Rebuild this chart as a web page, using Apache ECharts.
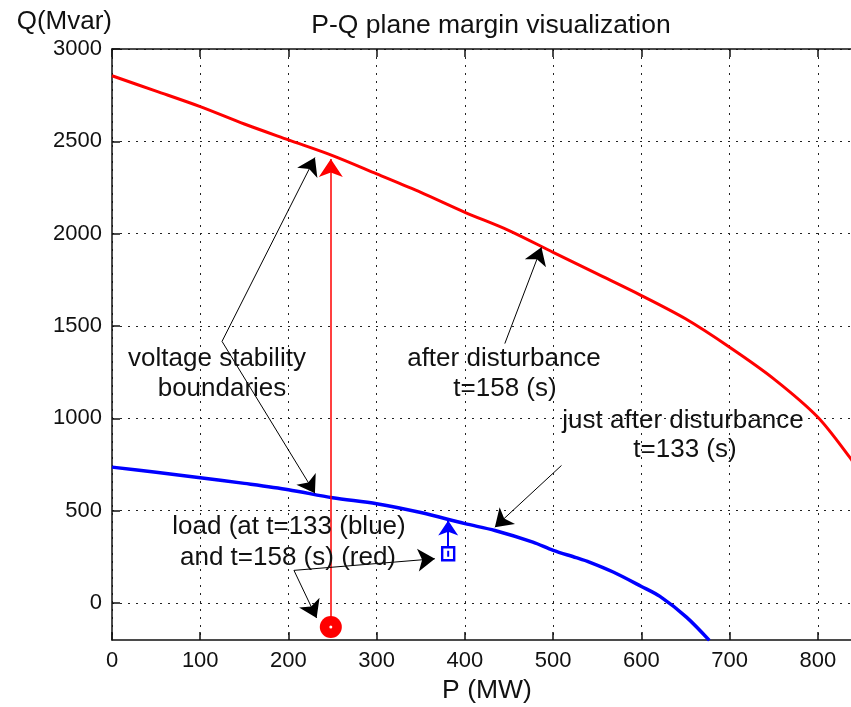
<!DOCTYPE html>
<html><head><meta charset="utf-8">
<script src="https://cdn.jsdelivr.net/npm/echarts@6/dist/echarts.min.js"></script>
<style>html,body{margin:0;padding:0;background:#fff}#c{width:851px;height:707px}</style>
</head><body><div id="c"></div>
<script>
// ---- data ----
const redP  = [0, 50, 100, 150, 200, 250, 300, 350, 400, 450, 500, 550, 600, 650, 700, 750, 800, 837, 850];
const redQ  = [2855, 2772, 2688, 2594, 2508, 2423, 2324, 2224, 2116, 2017, 1899, 1782, 1665, 1539, 1385, 1214, 1006, 783, 690];
const blueP = [0, 50, 100, 150, 200, 250, 300, 350, 400, 434, 477, 500, 526, 541, 568, 600, 621, 651, 677];
const blueQ = [736, 708, 679, 648, 614, 570, 538, 490, 430, 393, 330, 285, 246, 222, 168, 90, 36, -76, -202];
const loadBlue = [381, 267];
const loadRed  = [248, -130];
const blueTip  = [381, 447];
const redTip   = [248, 2405];
const xTicks = [0, 100, 200, 300, 400, 500, 600, 700, 800];
const yTicks = [0, 500, 1000, 1500, 2000, 2500, 3000];
const xRange = [0, 850];
const yRange = [-200, 3000];
// annotation arrows: [tail, head] in data units
const annArrows = [
  [[124.7, 1417], [230, 2412]],
  [[124.7, 1417], [230, 594]],
  [[445.2, 1405], [486.7, 1926]],
  [[509.4, 745], [433.9, 411]],
  [[206.2, 177], [365.9, 240]],
  [[206.2, 177], [231.9, -81]]
];
const titleText = 'P-Q plane margin visualization';
const xName = 'P (MW)';
const yName = 'Q(Mvar)';
const annTexts = [
  ['voltage stability', 217, 359],
  ['boundaries', 222, 389],
  ['after disturbance', 504, 359],
  ['t=158 (s)', 505, 389],
  ['just after disturbance', 683, 421],
  ['t=133 (s)', 685, 450],
  ['load (at t=133 (blue)', 289, 527],
  ['and t=158 (s) (red)', 288, 558]
];

const FONT = '"Liberation Sans", Arial, Helvetica, sans-serif';
const chart = echarts.init(document.getElementById('c'), null, {renderer: 'canvas'});
const gridLine = {show: true, lineStyle: {color: '#222', width: 1, type: [2, 6]}};
const opt = {
  animation: false,
  backgroundColor: '#fff',
  title: {text: titleText, left: 486, top: 7, textAlign: 'center',
          textStyle: {fontFamily: FONT, fontSize: 26.5, fontWeight: 'normal', color: '#111'}},
  grid: {left: 112, top: 49, width: 750, height: 591, containLabel: false, outerBoundsMode: 'none'},
  xAxis: [{
    type: 'value', min: xRange[0], max: xRange[1], interval: 100, position: 'bottom',
    name: xName, nameLocation: 'middle', nameGap: 37,
    nameTextStyle: {fontFamily: FONT, fontSize: 26.5, color: '#111'},
    axisLine: {show: true, onZero: false, lineStyle: {color: '#111', width: 1.5}},
    axisTick: {show: true, inside: true, length: 8, lineStyle: {color: '#111', width: 1.5}},
    axisLabel: {fontFamily: FONT, fontSize: 22, color: '#111', margin: 10, showMaxLabel: false,
                formatter: v => (xTicks.indexOf(v) >= 0 ? String(v) : '')},
    splitLine: gridLine
  }, {
    type: 'value', min: xRange[0], max: xRange[1], interval: 100, position: 'top',
    axisLine: {show: true, onZero: false, lineStyle: {color: '#111', width: 1.5}},
    axisTick: {show: true, inside: true, length: 8, lineStyle: {color: '#111', width: 1.5}},
    axisLabel: {show: false}, splitLine: {show: false}
  }],
  yAxis: [{
    type: 'value', min: yRange[0], max: yRange[1],
    name: yName, nameLocation: 'end', nameGap: 27,
    nameTextStyle: {fontFamily: FONT, fontSize: 26, color: '#111', align: 'right', verticalAlign: 'middle', padding: [0, 0, 0, 0]},
    axisLine: {show: true, onZero: false, lineStyle: {color: '#111', width: 1.5}},
    axisTick: {show: true, inside: true, length: 8, customValues: yTicks, lineStyle: {color: '#111', width: 1.5}},
    axisLabel: {fontFamily: FONT, fontSize: 22, color: '#111', margin: 10, customValues: yTicks,
                formatter: v => String(v)},
    splitLine: gridLine
  }],
  graphic: annTexts.map(t => ({
    type: 'text', x: t[1], y: t[2], z: 100,
    style: {text: t[0], fill: '#111', font: '26px ' + FONT,
            textAlign: 'center', textVerticalAlign: 'middle', align: 'center', verticalAlign: 'middle'}
  })),
  series: [
    {type: 'line', name: 'after', data: redP.map((p, i) => [p, redQ[i]]), showSymbol: false, smooth: 0.3,
     lineStyle: {color: '#ff0000', width: 3}, z: 5, clip: true},
    {type: 'line', name: 'just after', data: blueP.map((p, i) => [p, blueQ[i]]), showSymbol: false, smooth: 0.3,
     lineStyle: {color: '#0000ff', width: 3.5}, z: 5, clip: true},
    {type: 'lines', coordinateSystem: 'cartesian2d', symbol: ['none', 'arrow'], symbolSize: [14, 18],
     lineStyle: {color: '#ff0000', width: 1.5, opacity: 1}, data: [{coords: [loadRed, redTip]}], z: 6},
    {type: 'lines', coordinateSystem: 'cartesian2d', symbol: ['none', 'arrow'], symbolSize: [12, 15],
     lineStyle: {color: '#0000ff', width: 2, opacity: 1}, data: [{coords: [loadBlue, blueTip]}], z: 6},
    {type: 'lines', coordinateSystem: 'cartesian2d', symbol: ['none', 'arrow'], symbolSize: [11, 17],
     lineStyle: {color: '#000', width: 1, opacity: 1}, data: annArrows.map(a => ({coords: a})), z: 7},
    {type: 'scatter', data: [loadRed], symbol: 'circle', symbolSize: 22, itemStyle: {color: '#ff0000', opacity: 1}, z: 8},
    {type: 'scatter', data: [loadRed], symbol: 'circle', symbolSize: 3, itemStyle: {color: '#fff', opacity: 1}, z: 9},
    {type: 'scatter', data: [loadBlue], symbol: 'rect', symbolSize: [12, 13],
     itemStyle: {color: '#fff', borderColor: '#0000ff', borderWidth: 2.5, opacity: 1}, z: 8},
    {type: 'scatter', data: [loadBlue], symbol: 'rect', symbolSize: [2, 6], itemStyle: {color: '#0000ff', opacity: 1}, z: 9}
  ]
};
chart.setOption(opt);
</script></body></html>
